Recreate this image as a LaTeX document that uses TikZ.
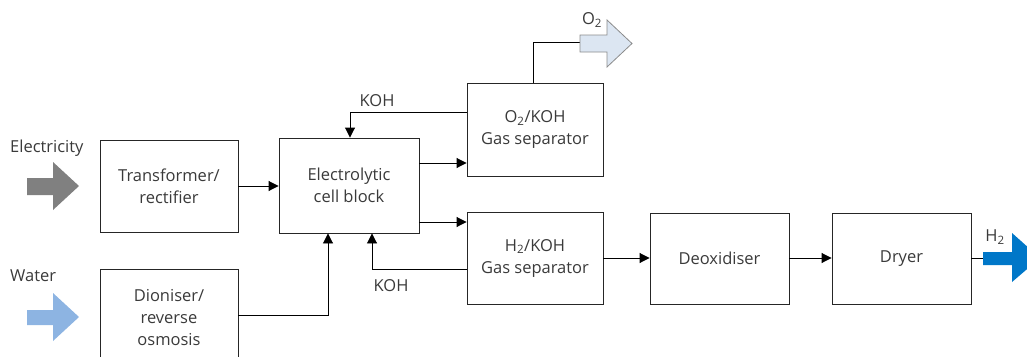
\documentclass[tikz,border=0pt]{standalone}
\usepackage{fontspec}
\setmainfont{Open Sans}
\usetikzlibrary{arrows.meta}
\definecolor{elecgray}{HTML}{808080}
\definecolor{waterblue}{HTML}{8DB4E2}
\definecolor{oxfill}{HTML}{DCE6F2}
\definecolor{hblue}{HTML}{0077C8}
\definecolor{txt}{HTML}{3A3A3A}
\tikzset{
  box/.style={draw=black!85, line width=0.9pt, minimum width=138pt, minimum height=92pt, inner sep=0pt, align=center, font=\fontsize{16.5}{22}\selectfont, text=txt},
  lbl/.style={font=\fontsize{16.5}{20}\selectfont, text=txt, inner sep=0pt},
  conn/.style={line width=0.9pt, black},
  arr/.style={conn, -{Triangle[length=10pt,width=10pt]}},
}
\begin{document}
\begin{tikzpicture}[x=1pt,y=-1pt]
\useasboundingbox (0,0) rectangle (1027,356);
% boxes
\node[box] (tr) at (169,186) {Transformer/\\rectifier};
\node[box, minimum height=98pt] (di) at (169,318) {Dioniser/\\reverse\\osmosis};
\node[box, minimum width=140pt, minimum height=95pt] (el) at (349,185.5) {Electrolytic\\cell block};
\node[box, minimum width=136pt, minimum height=93pt] (o2s) at (535,129.5) {O\textsubscript{2}/KOH\\Gas separator};
\node[box, minimum width=136pt] (h2s) at (535,258) {H\textsubscript{2}/KOH\\Gas separator};
\node[box, minimum width=139pt, minimum height=91pt] (deo) at (719.5,258.5) {Deoxidiser};
\node[box, minimum width=139pt, minimum height=91pt] (dry) at (901.5,258.5) {Dryer};
% labels
\node[lbl, anchor=west] (lelec) at (10,148) {Electricity};
\node[lbl, anchor=west] (lwater) at (10,276) {Water};
\node[lbl] (lkoh1) at (377,101) {KOH};
\node[lbl] (lkoh2) at (391,286) {KOH};
\node[lbl] (lo2) at (592,20) {O\textsubscript{2}};
\node[lbl] (lh2) at (995,237) {H\textsubscript{2}};
% coordinates
\coordinate (kohtop) at (350,112);
\coordinate (kohbot) at (372,269);
\coordinate (dibend) at (328,315);
\coordinate (o2bend) at (533,42);
\coordinate (o2in) at (580,42);
\coordinate (h2in) at (983,258);
% connectors
\draw[arr] (tr.east) -- (tr.east -| el.west);
\draw[arr] (el.east |- 0,163) -- (o2s.west |- 0,163);
\draw[arr] (el.east |- 0,222) -- (h2s.west |- 0,222);
\draw[arr] (o2s.west |- kohtop) -- (kohtop) -- (kohtop |- el.north);
\draw[arr] (h2s.west |- kohbot) -- (kohbot) -- (kohbot |- el.south);
\draw[arr] (di.east |- dibend) -- (dibend) -- (dibend |- el.south);
\draw[arr] (h2s.east |- 0,258) -- (deo.west |- 0,258);
\draw[arr] (deo.east |- 0,258) -- (dry.west |- 0,258);
\draw[conn] (dry.east |- h2in) -- (h2in);
\draw[conn] (o2s.north -| o2bend) -- (o2bend) -- (o2in);
% block arrows
\fill[elecgray] (27,178) -- (53,178) -- (53,162) -- (79,186) -- (53,210) -- (53,195) -- (27,195) -- cycle;
\fill[waterblue] (27,310) -- (53,310) -- (53,293) -- (79,317) -- (53,341) -- (53,325) -- (27,325) -- cycle;
\filldraw[fill=oxfill, draw=black!45, line width=0.8pt] (580,35) -- (607,35) -- (607,20) -- (632,43.5) -- (607,67) -- (607,52) -- (580,52) -- cycle;
\fill[hblue] (983,252) -- (1012,252) -- (1012,233) -- (1040,258) -- (1012,282) -- (1012,265) -- (983,265) -- cycle;
\end{tikzpicture}
\end{document}
